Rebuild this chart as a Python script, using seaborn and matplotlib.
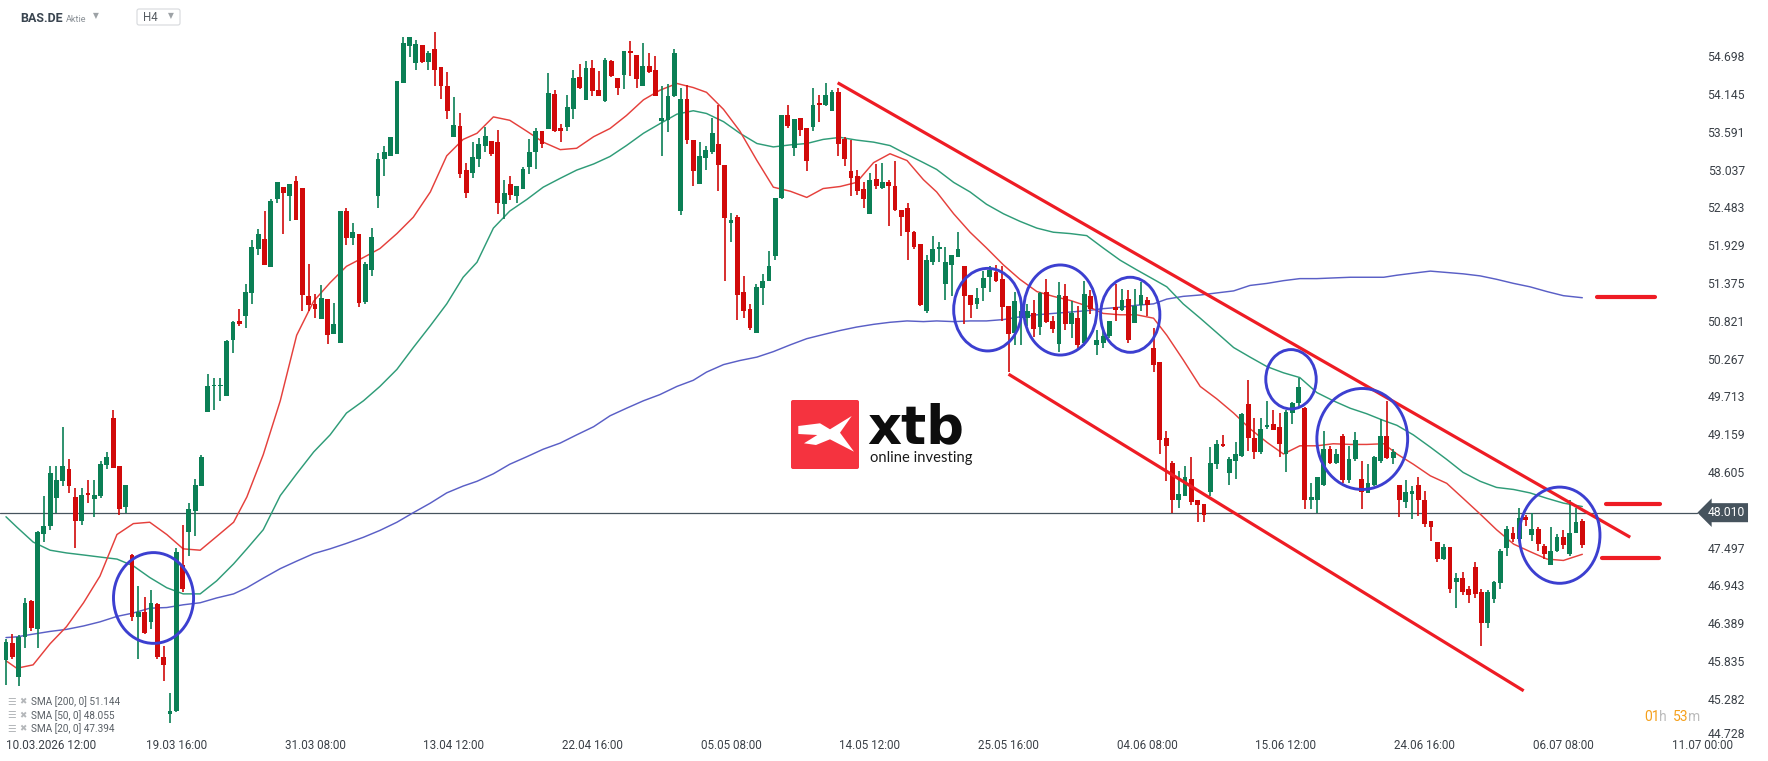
import numpy as np
import pandas as pd
import seaborn as sns
import matplotlib
matplotlib.use("Agg")
import matplotlib.pyplot as plt
from matplotlib.patches import Ellipse, FancyBboxPatch, Polygon
from matplotlib.transforms import ScaledTranslation

# ---------------- data ----------------
opens = [45.85, 46.10, 45.60, 46.19, 46.71, 46.30, 47.70, 47.81, 48.22, 48.47,
 48.65, 48.24, 47.89, 48.30, 48.21, 48.25, 48.71, 49.40, 48.69, 48.10,
 47.39, 46.48, 46.55, 46.41, 46.67, 45.90, 45.06, 45.11, 47.25, 47.73,
 48.03, 48.40, 49.49, 49.86, 49.86, 49.72, 50.54, 50.82, 50.89, 51.23,
 51.88, 52.02, 51.61, 52.60, 52.78, 52.65, 52.87, 52.77, 51.19, 51.07,
 50.85, 51.14, 50.63, 50.50, 52.43, 52.03, 52.09, 51.10, 51.57, 52.65,
 53.19, 53.24, 53.27, 54.31, 54.85, 54.60, 54.86, 54.62, 54.80, 54.54,
 54.27, 53.51, 53.67, 53.03, 52.99, 53.19, 53.39, 53.45, 53.44, 52.53,
 52.83, 52.65, 52.75, 53.08, 53.29, 53.61, 53.63, 54.15, 53.64, 53.66,
 53.93, 54.40, 54.06, 54.53, 54.21, 54.04, 54.63, 54.38, 54.43, 54.78,
 54.72, 54.26, 54.55, 54.50, 53.75, 53.76, 54.12, 52.43, 54.07, 53.47,
 52.82, 53.21, 53.30, 53.42, 53.10, 52.26, 52.35, 51.24, 51.00, 50.65,
 51.30, 51.41, 51.77, 52.62, 53.84, 53.35, 53.80, 53.64, 53.66, 54.02,
 53.99, 53.90, 54.17, 53.48, 53.01, 52.95, 52.75, 52.38, 52.90, 52.77,
 52.85, 52.80, 52.44, 52.48, 52.12, 51.94, 50.96, 51.69, 51.88, 51.36,
 51.64, 51.76, 51.62, 51.20, 51.07, 51.30, 51.46, 51.53, 51.43, 51.04,
 50.64, 50.86, 50.86, 50.94, 50.73, 51.25, 50.82, 50.48, 51.19, 50.77,
 50.86, 50.50, 51.19, 50.47, 50.50, 50.60, 51.02, 50.98, 51.14, 50.79,
 51.05, 51.12, 50.43, 50.22, 49.11, 48.74, 48.19, 48.26, 48.51, 48.20,
 48.14, 48.32, 48.72, 49.01, 48.59, 48.76, 48.84, 49.60, 49.11, 48.90,
 49.26, 49.31, 49.26, 48.87, 49.47, 49.61, 49.54, 48.20, 48.20, 48.42,
 48.94, 48.74, 49.13, 48.49, 48.79, 48.50, 48.30, 48.42, 48.76, 49.13,
 48.81, 48.42, 48.17, 48.28, 48.42, 48.20, 47.89, 47.58, 47.33, 47.51,
 46.99, 47.06, 46.89, 47.21, 46.85, 46.39, 46.75, 46.98, 47.49, 47.71,
 47.62, 47.94, 47.69, 47.77, 47.52, 47.25, 47.45, 47.65, 47.40, 47.71,
 47.89]

highs = [46.16, 46.23, 46.22, 46.76, 46.73, 47.74, 48.25, 48.69, 48.69, 49.26,
 48.79, 48.37, 48.37, 48.49, 48.49, 48.76, 48.90, 49.51, 48.69, 48.41,
 47.40, 46.94, 46.78, 46.87, 46.69, 46.05, 45.37, 47.49, 47.83, 48.15,
 48.51, 48.85, 50.04, 49.98, 49.98, 50.54, 50.82, 50.99, 51.36, 52.00,
 52.16, 52.43, 52.60, 52.85, 52.78, 52.83, 52.94, 52.77, 51.66, 51.21,
 51.35, 51.14, 51.08, 52.43, 52.48, 52.26, 52.09, 51.68, 52.18, 53.28,
 53.39, 53.51, 54.33, 54.98, 54.98, 54.93, 54.86, 54.78, 55.05, 54.54,
 54.47, 54.10, 53.86, 53.14, 53.44, 53.50, 53.66, 53.45, 53.62, 52.89,
 52.95, 52.80, 53.08, 53.48, 53.64, 53.61, 54.46, 54.21, 53.71, 54.13,
 54.50, 54.59, 54.63, 54.64, 54.48, 54.67, 54.65, 54.38, 54.77, 54.92,
 54.72, 54.90, 54.75, 54.70, 54.26, 54.29, 54.81, 54.24, 54.28, 53.47,
 53.44, 53.39, 53.79, 53.99, 53.10, 52.40, 52.37, 51.48, 51.07, 51.36,
 51.51, 51.84, 52.62, 53.84, 53.99, 53.78, 53.80, 53.64, 54.24, 54.13,
 54.30, 54.20, 54.24, 53.51, 53.47, 53.03, 52.85, 52.99, 53.12, 53.14,
 52.89, 53.17, 52.44, 52.55, 52.14, 51.94, 51.78, 52.06, 51.98, 51.91,
 51.78, 52.13, 51.62, 51.20, 51.30, 51.55, 51.62, 51.64, 51.62, 51.04,
 51.24, 51.07, 51.07, 51.12, 51.25, 51.43, 50.89, 51.39, 51.36, 51.11,
 51.04, 51.41, 51.28, 50.68, 50.68, 50.82, 51.36, 51.29, 51.27, 51.29,
 51.39, 51.17, 50.72, 50.22, 49.20, 48.76, 48.62, 48.69, 48.82, 48.20,
 48.14, 48.97, 49.08, 49.15, 48.83, 49.04, 49.47, 49.95, 49.40, 49.40,
 49.65, 49.51, 49.47, 49.51, 49.63, 49.98, 49.56, 48.44, 48.53, 49.20,
 48.99, 48.94, 49.16, 48.99, 49.19, 48.76, 48.72, 48.84, 49.38, 49.65,
 48.95, 48.42, 48.49, 48.40, 48.54, 48.33, 47.89, 47.58, 47.55, 47.51,
 47.12, 47.14, 46.93, 47.28, 46.89, 46.87, 47.01, 47.48, 47.81, 47.80,
 48.08, 47.97, 48.01, 47.80, 47.55, 47.80, 47.70, 47.75, 48.19, 48.08,
 47.92]

lows = [45.48, 45.86, 45.47, 46.02, 46.27, 46.02, 47.58, 47.76, 48.01, 48.40,
 48.30, 47.49, 47.83, 48.15, 47.94, 48.22, 48.65, 48.66, 47.97, 48.01,
 46.42, 45.87, 46.23, 46.30, 45.86, 45.55, 44.93, 45.09, 46.85, 47.37,
 47.67, 48.40, 49.49, 49.51, 49.65, 49.72, 50.35, 50.75, 50.72, 51.07,
 51.78, 51.64, 51.61, 52.55, 52.10, 52.28, 52.30, 50.97, 50.97, 50.86,
 50.85, 50.48, 50.63, 50.50, 51.93, 51.93, 51.02, 51.07, 51.48, 52.47,
 52.95, 53.23, 53.27, 54.30, 54.69, 54.49, 54.60, 54.49, 54.27, 54.07,
 53.78, 53.51, 52.92, 52.62, 52.92, 53.07, 53.30, 53.24, 52.39, 52.32,
 52.59, 52.55, 52.75, 52.97, 53.04, 53.35, 53.63, 53.59, 53.44, 53.61,
 53.78, 54.22, 54.06, 54.12, 54.12, 54.03, 54.40, 54.13, 54.22, 54.41,
 54.24, 54.26, 54.45, 54.11, 53.24, 53.59, 54.10, 52.37, 53.42, 52.80,
 52.82, 53.03, 53.26, 52.72, 51.41, 51.98, 50.84, 50.86, 50.68, 50.65,
 51.06, 51.41, 51.71, 52.60, 53.64, 53.23, 53.53, 53.02, 53.60, 53.74,
 53.97, 53.89, 53.24, 53.09, 52.65, 52.67, 52.47, 52.38, 52.75, 52.75,
 52.21, 52.43, 52.07, 51.71, 51.87, 51.04, 50.93, 51.64, 51.68, 51.13,
 51.18, 51.76, 50.77, 50.86, 50.99, 51.11, 51.25, 51.39, 50.82, 50.07,
 50.47, 50.47, 50.75, 50.59, 50.61, 50.79, 50.65, 50.36, 50.68, 50.57,
 50.43, 50.45, 50.92, 50.32, 50.43, 50.57, 50.82, 50.97, 50.50, 50.79,
 50.97, 50.89, 50.07, 48.87, 48.47, 48.01, 48.08, 48.25, 48.12, 47.87,
 47.87, 48.26, 48.65, 48.97, 48.42, 48.51, 48.83, 48.92, 48.79, 48.87,
 49.24, 49.22, 48.83, 48.60, 49.31, 49.54, 48.06, 48.06, 48.01, 48.40,
 48.72, 48.72, 48.45, 48.44, 48.77, 48.06, 48.30, 48.40, 48.74, 48.79,
 48.72, 47.94, 48.08, 47.92, 47.96, 47.80, 47.60, 47.28, 47.31, 46.83,
 46.61, 46.80, 46.69, 46.76, 46.05, 46.32, 46.69, 46.89, 47.37, 47.58,
 47.60, 47.81, 47.60, 47.45, 47.33, 47.24, 47.44, 47.48, 47.37, 47.71,
 47.49]

closes = [46.12, 45.90, 46.19, 46.69, 46.32, 47.73, 47.81, 48.59, 48.49, 48.70,
 48.40, 47.89, 48.27, 48.27, 48.27, 48.73, 48.83, 48.67, 48.06, 48.41,
 46.48, 46.55, 46.24, 46.68, 45.90, 45.78, 45.11, 47.44, 46.89, 48.06,
 48.42, 48.83, 49.86, 49.88, 49.88, 50.52, 50.81, 50.77, 51.25, 51.91,
 52.10, 51.64, 52.58, 52.85, 52.69, 52.83, 52.30, 51.20, 51.05, 50.99,
 51.15, 50.61, 50.78, 52.43, 52.03, 52.12, 51.09, 51.65, 52.05, 53.19,
 53.29, 53.51, 54.33, 54.90, 54.98, 54.88, 54.62, 54.75, 54.50, 54.27,
 53.90, 53.69, 52.98, 52.69, 53.22, 53.42, 53.53, 53.26, 52.55, 52.70,
 52.67, 52.80, 53.04, 53.29, 53.61, 53.42, 54.16, 53.60, 53.60, 53.96,
 54.38, 54.24, 54.53, 54.19, 54.12, 54.65, 54.41, 54.23, 54.77, 54.74,
 54.37, 54.55, 54.47, 54.12, 53.79, 54.12, 54.75, 54.07, 53.47, 53.02,
 53.24, 53.32, 53.58, 53.10, 52.33, 52.30, 51.20, 50.97, 50.72, 51.32,
 51.41, 51.63, 52.62, 53.84, 53.68, 53.78, 53.62, 53.17, 53.99, 53.98,
 54.13, 54.18, 53.42, 53.19, 52.92, 52.72, 52.61, 52.89, 52.80, 52.85,
 52.80, 52.44, 52.34, 52.12, 51.90, 51.05, 51.71, 51.87, 51.91, 51.68,
 51.78, 51.88, 51.19, 51.06, 51.15, 51.45, 51.56, 51.41, 51.02, 50.63,
 51.11, 50.97, 50.96, 50.70, 51.23, 50.81, 50.70, 51.20, 50.77, 50.94,
 50.47, 51.21, 50.99, 50.54, 50.60, 50.82, 50.98, 51.13, 50.54, 51.04,
 51.20, 51.05, 50.17, 49.08, 48.99, 48.20, 48.29, 48.53, 48.17, 48.12,
 47.97, 48.74, 49.02, 48.99, 48.79, 48.87, 49.45, 49.11, 48.90, 49.23,
 49.29, 49.22, 49.02, 49.48, 49.61, 49.85, 48.20, 48.24, 48.53, 48.94,
 48.74, 48.87, 48.49, 48.79, 49.08, 48.31, 48.44, 48.83, 49.14, 48.81,
 48.90, 48.19, 48.31, 48.33, 48.20, 47.85, 47.80, 47.33, 47.50, 46.89,
 47.05, 46.85, 46.80, 46.82, 46.39, 46.85, 46.99, 47.45, 47.77, 47.62,
 47.93, 47.90, 47.77, 47.55, 47.40, 47.45, 47.65, 47.53, 47.71, 47.88,
 47.53]

# moving averages, sampled along the bar axis
sma_pos = [0, 1.7, 4.3, 7.0, 9.6, 12.3, 14.9, 17.6, 20.2, 22.8, 25.5, 28.1, 30.8, 33.4, 36.1,
 38.2, 40.8, 43.5, 46.1, 48.8, 51.4, 54.0, 56.7, 59.3, 62.0, 64.6, 67.3, 69.9, 72.5,
 74.7, 77.3, 79.9, 82.6, 85.2, 87.9, 90.5, 93.2, 95.8, 98.4, 101.1, 103.7, 106.4, 109.0,
 111.1, 113.8, 116.4, 119.1, 121.7, 124.4, 127.0, 129.6, 132.3, 134.9, 137.6, 140.2, 142.9, 145.5,
 147.6, 150.3, 152.9, 155.5, 158.2, 160.8, 163.5, 166.1, 168.8, 171.4, 174.0, 176.7, 179.3, 182.0,
 184.1, 186.7, 189.4, 192.0, 194.7, 197.3, 200.0, 202.6, 205.2, 207.9, 210.5, 213.2, 215.8, 218.5,
 220.6, 223.2, 225.9, 228.5, 231.1, 233.8, 236.4, 239.1, 241.7, 244.4, 247.0, 250.0]

sma20 = [45.84, 45.73, 45.78, 46.09, 46.34, 46.69, 47.08, 47.69, 47.85, 47.87, 47.69, 47.48, 47.46, 47.66, 47.87,
 48.24, 48.86, 49.65, 50.61, 51.11, 51.38, 51.62, 51.75, 51.88, 52.10, 52.34, 52.71, 53.24, 53.48,
 53.57, 53.81, 53.76, 53.60, 53.44, 53.33, 53.35, 53.52, 53.64, 53.83, 54.06, 54.20, 54.30, 54.24,
 54.17, 53.92, 53.60, 53.17, 52.78, 52.72, 52.63, 52.76, 52.79, 52.85, 53.14, 53.27, 53.17, 52.89,
 52.71, 52.39, 52.12, 51.89, 51.64, 51.43, 51.25, 51.18, 51.12, 51.04, 50.93, 50.91, 50.91, 50.86,
 50.61, 50.25, 49.86, 49.68, 49.47, 49.24, 49.04, 48.87, 48.99, 48.99, 49.02, 49.01, 49.01, 49.02,
 48.87, 48.72, 48.55, 48.44, 48.22, 47.99, 47.76, 47.55, 47.44, 47.33, 47.31, 47.40]

sma50 = [47.95, 47.80, 47.58, 47.46, 47.42, 47.39, 47.36, 47.33, 47.23, 47.06, 46.91, 46.82, 46.82, 47.01, 47.26,
 47.48, 47.76, 48.26, 48.58, 48.90, 49.15, 49.47, 49.65, 49.86, 50.11, 50.43, 50.75, 51.07, 51.46,
 51.68, 52.18, 52.43, 52.60, 52.78, 52.91, 53.03, 53.12, 53.23, 53.39, 53.57, 53.71, 53.85, 53.90,
 53.86, 53.74, 53.57, 53.42, 53.37, 53.40, 53.42, 53.48, 53.51, 53.47, 53.44, 53.39, 53.26, 53.14,
 53.04, 52.85, 52.71, 52.53, 52.39, 52.28, 52.18, 52.12, 52.10, 52.07, 51.89, 51.71, 51.57, 51.43,
 51.32, 51.07, 50.86, 50.65, 50.43, 50.29, 50.15, 50.06, 49.99, 49.77, 49.65, 49.54, 49.46, 49.36,
 49.29, 49.15, 48.97, 48.79, 48.60, 48.47, 48.38, 48.35, 48.30, 48.22, 48.15, 48.10]

sma200 = [46.18, 46.19, 46.23, 46.27, 46.30, 46.35, 46.41, 46.49, 46.54, 46.61, 46.62, 46.66, 46.69, 46.76, 46.82,
 46.91, 47.05, 47.19, 47.30, 47.41, 47.48, 47.56, 47.65, 47.75, 47.87, 48.01, 48.15, 48.30, 48.40,
 48.47, 48.58, 48.72, 48.83, 48.94, 49.03, 49.15, 49.27, 49.43, 49.54, 49.65, 49.74, 49.86, 49.95,
 50.07, 50.18, 50.24, 50.29, 50.37, 50.47, 50.56, 50.62, 50.68, 50.73, 50.77, 50.80, 50.82, 50.81,
 50.82, 50.81, 50.82, 50.82, 50.84, 50.88, 50.91, 50.93, 50.95, 50.97, 51.00, 51.02, 51.05, 51.07,
 51.14, 51.18, 51.20, 51.23, 51.26, 51.34, 51.37, 51.41, 51.44, 51.44, 51.45, 51.46, 51.46, 51.46,
 51.49, 51.52, 51.55, 51.53, 51.51, 51.48, 51.43, 51.37, 51.32, 51.25, 51.19, 51.16]

sma_legend = ["SMA [200, 0] 51.144", "SMA [50, 0] 48.055", "SMA [20, 0] 47.394"]

xtick_pos = [5, 27, 49, 71, 93, 115, 137, 159, 181, 203, 225, 247, 269]
xtick_labels = ["10.03.2026 12:00", "19.03 16:00", "31.03 08:00", "13.04 12:00", "22.04 16:00",
                "05.05 08:00", "14.05 12:00", "25.05 16:00", "04.06 08:00", "15.06 12:00",
                "24.06 16:00", "06.07 08:00", "11.07 00:00"]
ytick_vals = [44.728, 45.282, 45.835, 46.389, 46.943, 47.497, 48.605, 49.159, 49.713,
              50.267, 50.821, 51.375, 51.929, 52.483, 53.037, 53.591, 54.145, 54.698]
last_price = 48.010

# drawn annotations (channel, levels, circled zones)
channel_upper = ([131.9, 257.6], [54.31, 47.65])
channel_lower = ([159.0, 240.7], [50.04, 45.40])
level_prices = [51.165, 48.14, 47.34]
level_from = [252.4, 253.8, 253.1]
level_to = [261.6, 262.4, 262.2]
circle_x = [23.4, 155.7, 167.2, 178.3, 203.8, 215.1, 246.4]
circle_y = [46.76, 50.985, 50.98, 50.91, 49.965, 49.09, 47.68]
circle_w = [12.7, 10.8, 11.6, 9.4, 8.0, 14.4, 12.8]
circle_h = [1.33, 1.21, 1.32, 1.10, 0.87, 1.48, 1.41]

# ---------------- plotting ----------------
sns.set_theme(style="white")
plt.rcParams['font.family'] = ['Roboto', 'DejaVu Sans']

W, H = 1768, 761
fig = plt.figure(figsize=(W / 100, H / 100), dpi=100)
fig.patch.set_facecolor('white')
ax = fig.add_axes([0, 0, 1, 1])
ax.set_facecolor('white')
for s in ax.spines.values():
    s.set_visible(False)
ax.grid(False)

GREEN = '#0b7f55'
RED = '#d10a0a'

df = pd.DataFrame(dict(i=np.arange(len(opens)), o=opens, h=highs, l=lows, c=closes))
up = df.c >= df.o
cols = np.where(up, GREEN, RED)

# moving averages with seaborn
sma_df = pd.DataFrame({'pos': sma_pos, 'SMA200': sma200, 'SMA50': sma50, 'SMA20': sma20})
long = sma_df.melt(id_vars='pos', var_name='line', value_name='price')
sns.lineplot(data=long, x='pos', y='price', hue='line',
             palette={'SMA200': '#5a5fc6', 'SMA50': '#2f9c78', 'SMA20': '#e5403c'},
             linewidth=1.05, legend=False, ax=ax, zorder=2)

# candles
ax.vlines(df.i, df.l, df.h, colors=cols, linewidth=1.2, zorder=3)
body = np.maximum((df.c - df.o).abs(), 0.025)
ax.bar(df.i, body, bottom=np.minimum(df.o, df.c), width=0.76, color=cols,
       linewidth=0, zorder=4)

ax.set_xlim(-0.95, 279.45)
ax.set_ylim(44.371, 55.523)
ax.set_xlabel('')
ax.set_ylabel('')

# current price line + label
ax.axhline(last_price, xmin=0, xmax=1697 / W, color='#46535d', lw=0.9, zorder=1)
ax.text(1745 / W, last_price, f"{last_price:.3f}", transform=ax.get_yaxis_transform(),
        ha='right', va='center', color='white', fontsize=8.7, zorder=10,
        bbox=dict(boxstyle='larrow,pad=0.25', fc='#46535d', ec='none'))

# channel lines
TR = '#ee1c24'
ax.plot(*channel_upper, color=TR, lw=2.3, zorder=5, solid_capstyle='butt')
ax.plot(*channel_lower, color=TR, lw=2.3, zorder=5, solid_capstyle='butt')
for p, a, b in zip(level_prices, level_from, level_to):
    ax.plot([a, b], [p, p], color=TR, lw=3.0, zorder=5, solid_capstyle='round')

# circled zones
for cx, cy, w, h in zip(circle_x, circle_y, circle_w, circle_h):
    ax.add_patch(Ellipse((cx, cy), w, h, fill=False, ec='#3c3fd0', lw=2.1, zorder=6))

# ticks
ax.yaxis.tick_right()
ax.set_yticks(ytick_vals)
ax.set_yticklabels([f"{v:.3f}" for v in ytick_vals])
ax.tick_params(axis='y', which='both', length=0, pad=-16.6, labelsize=8.7,
               labelcolor='#3a4047', left=False, right=False)
ylabels = ax.get_yticklabels()
for lbl in ylabels:
    lbl.set_ha('right')
ylabels[0].set_transform(ylabels[0].get_transform() +
                         ScaledTranslation(0, 4 / 100, fig.dpi_scale_trans))

ax.set_xticks(xtick_pos)
ax.set_xticklabels(xtick_labels)
ax.tick_params(axis='x', which='both', length=0, pad=-11.5, labelsize=8.4,
               labelcolor='#3a4047', bottom=False)
xlabels = ax.get_xticklabels()
for lbl in xlabels:
    lbl.set_va('center')
xlabels[0].set_ha('left')
xlabels[0].set_transform(xlabels[0].get_transform() +
                         ScaledTranslation(-31.5 / 100, 0, fig.dpi_scale_trans))

# ---------------- overlay (pixel coordinates) ----------------
ov = fig.add_axes([0, 0, 1, 1], facecolor='none')
ov.set_xlim(0, W)
ov.set_ylim(H, 0)
ov.axis('off')

# header
ov.text(20, 18, "BAS.DE", fontsize=9.0, fontweight='bold', color='#3a4550', va='center', ha='left')
ov.text(66, 19, "Aktie", fontsize=6.6, color='#8a9096', va='center', ha='left')
ov.text(93, 16, "▼", fontsize=5.5, color='#9da2a6', va='center', ha='left', family=['DejaVu Sans'])
ov.add_patch(FancyBboxPatch((137, 9), 43, 16, boxstyle='round,pad=0,rounding_size=2',
                            fc='white', ec='#d6d9dc', lw=0.8))
ov.text(143, 17.5, "H4", fontsize=8.3, color='#555b61', va='center', ha='left')
ov.text(168, 16, "▼", fontsize=5.5, color='#9da2a6', va='center', ha='left', family=['DejaVu Sans'])

# legend of moving averages
for yy, txt in zip([702, 715.5, 729], sma_legend):
    ov.text(7, yy, "☰", fontsize=7, color='#b4b7ba', va='center', ha='left', family=['DejaVu Sans'])
    ov.text(19.5, yy, "✖", fontsize=6.3, color='#b4b7ba', va='center', ha='left', family=['DejaVu Sans'])
    ov.text(31, yy, txt, fontsize=7.2, color='#5a6066', va='center', ha='left')

# countdown
ov.text(1644, 716.7, "01", fontsize=10, color='#f5a01c', va='center', ha='left')
ov.text(1659.5, 716.7, "h", fontsize=10, color='#bcbcbc', va='center', ha='left')
ov.text(1672.7, 716.7, "53", fontsize=10, color='#f5a01c', va='center', ha='left')
ov.text(1688, 716.7, "m", fontsize=10, color='#bcbcbc', va='center', ha='left')

# xtb logo
ov.add_patch(FancyBboxPatch((791, 400), 68, 69, boxstyle='round,pad=0,rounding_size=2',
                            fc='#f5333f', ec='none'))
xmark = [(798.3, 426), (820, 423.3), (830, 429.3), (851.7, 416), (840, 432.7), (854, 451.7),
         (830, 439.3), (816, 445), (804, 443.3), (817.3, 435), (798.3, 434)]
ov.add_patch(Polygon(xmark, closed=True, fc='white', ec='none'))
ov.text(867, 443, "xtb", fontsize=38, fontweight='bold', color='#0d0d0d', va='baseline',
        ha='left', family=['DejaVu Sans'])
ov.text(870, 458, "online investing", fontsize=10.6, color='#1a1a1a', va='center', ha='left',
        family=['Lato', 'DejaVu Sans'])

fig.savefig('out.png', dpi=100, facecolor='white')
